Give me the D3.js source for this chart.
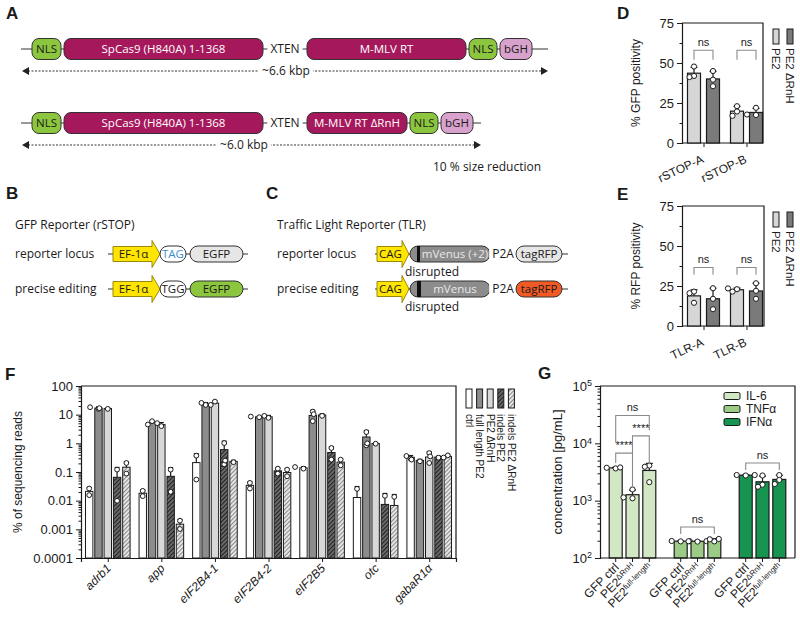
<!DOCTYPE html>
<html>
<head>
<meta charset="utf-8">
<script src="https://cdn.jsdelivr.net/npm/d3@7"></script>
<style>
  body { margin: 0; background: #fff; }
  svg { font-family: "Liberation Sans", Arial, sans-serif; }
  .dia text { font-family: "Open Sans", sans-serif; }
</style>
</head>
<body>
<svg id="fig" width="800" height="623"></svg>
<script>
// ---------- panel A ----------
var peFull = ["NLS", "SpCas9 (H840A) 1-1368", "XTEN", "M-MLV RT", "NLS", "bGH"];
var peSmall = ["NLS", "SpCas9 (H840A) 1-1368", "XTEN", "M-MLV RT ΔRnH", "NLS", "bGH"];
var peSizes = ["~6.6 kbp", "~6.0 kbp"];
var sizeNote = "10 % size reduction";

// ---------- panel B / C ----------
var gfpTitle = "GFP Reporter (rSTOP)";
var tlrTitle = "Traffic Light Reporter (TLR)";
var rowNames = ["reporter locus", "precise editing"];
var gfpRows = [["EF-1α", "TAG", "EGFP"], ["EF-1α", "TGG", "EGFP"]];
var tlrRows = [["CAG", "mVenus (+2)", "P2A", "tagRFP"], ["CAG", "mVenus", "P2A", "tagRFP"]];
var tlrNote = "disrupted";

// ---------- panel D / E ----------
var deSeries = ["PE2", "PE2 ΔRnH"];
var deTicks = [0, 25, 50, 75];
var deMinor = [12.5, 37.5, 62.5];
var dGroups = ["rSTOP-A", "rSTOP-B"];
var dPoints = [[[47.8, 41.9, 41.2], [45, 39.6, 35.5]], [[23, 19.7, 17], [22, 17.5, 17.8]]];
var dSig = [{ group: "rSTOP-A", top: 58, leg: 52, text: "ns" }, { group: "rSTOP-B", top: 58, leg: 52, text: "ns" }];
var eGroups = ["TLR-A", "TLR-B"];
var ePoints = [[[21.5, 20.5, 14.5], [23.6, 17, 10.5]], [[23, 23.5, 21.5], [26.7, 22, 17]]];
var eSig = [{ group: "TLR-A", top: 36.6, leg: 32, text: "ns" }, { group: "TLR-B", top: 36.6, leg: 32, text: "ns" }];

// ---------- panel F ----------
var fGenes = ["adrb1", "app", "eIF2B4-1", "eIF2B4-2", "eIF2B5", "otc", "gabaR1α"];
var fSeries = ["ctrl", "full length PE2", "PE2 ΔRnH", "indels PE2", "indels PE2 ΔRnH"];
var fPoints = [
  [[0.0265, 0.0156], [15.9, 18.2], [15.9, 16.8], [0.121, 0.0099], [0.206, 0.088]],
  [[0.022, 0.0144], [5.93, 4.54], [3.98, 5.06], [0.121, 0.0203], [0.002, 0.00103]],
  [[0.371, 0.0545], [21.9, 25.7], [28.6, 21.9], [1.02, 0.186], [0.22, 0.25]],
  [[0.0417, 0.0265], [8.17, 8.6], [7.75, 9.1], [0.131, 0.088], [0.121, 0.071]],
  [[0.131, 0.149], [12.8, 5.93], [9.1, 10.4], [0.686, 0.27], [0.27, 0.171]],
  [[0.0258, 0], [2.47, 0.85], [0.97, 1.0], [0.0148, 0], [0.0136, 0]],
  [[0.292, 0.361], [0.236, 0.27], [0.459, 0.206], [0.316, 0.35], [0.38, 0.32]]
];
var fTicks = [0.0001, 0.001, 0.01, 0.1, 1, 10, 100];
var fTickText = ["0.0001", "0.001", "0.01", "0.1", "1", "10", "100"];

// ---------- panel G ----------
var gCytokines = ["IL-6", "TNFα", "IFNα"];
var gCondBase = ["GFP ctrl", "PE2", "PE2"];
var gCondSup = ["", "ΔRnH", "full-length"];
var gPoints = [
  [[3650, 3750, 3800], [1570, 1100, 1140], [4100, 3900, 2100]],
  [[195, 198, 196], [193, 196, 197], [195, 212, 215]],
  [[2750, 2800, 2800], [2750, 1900, 1750], [2790, 2300, 1950]]
];
var gTicks = [100, 1000, 10000, 100000];
var gSig = [
  { cyto: "IL-6", a: 0, b: 1, top: 6740, legA: 4540, legB: 1700, text: "****" },
  { cyto: "IL-6", a: 1, b: 2, top: 13500, legA: 6740, legB: 4300, text: "****" },
  { cyto: "IL-6", a: 0, b: 2, top: 30600, legA: 10200, legB: 16900, text: "ns" },
  { cyto: "TNFα", a: 0, b: 2, top: 348, legA: 262, legB: 262, text: "ns" },
  { cyto: "IFNα", a: 0, b: 2, top: 4550, legA: 3435, legB: 3435, text: "ns" }
];

var ink = "#1a1a1a";
var svg = d3.select("#fig");
var defs = svg.append("defs");

function hatch(id, bg, fg) {
  var p = defs.append("pattern").attr("id", id).attr("patternUnits", "userSpaceOnUse")
    .attr("width", 3).attr("height", 3).attr("patternTransform", "rotate(45)");
  p.append("rect").attr("width", 3).attr("height", 3).attr("fill", bg);
  p.append("line").attr("x1", 0.5).attr("y1", 0).attr("x2", 0.5).attr("y2", 3)
    .attr("stroke", fg).attr("stroke-width", 1.3);
}
hatch("hDark", "#6e6e6e", "#222");
hatch("hLight", "#ececec", "#8a8a8a");

// panel letters
[["A", 6, 19], ["B", 6, 199], ["C", 266, 199], ["D", 617, 19], ["E", 617, 200], ["F", 5, 380], ["G", 538, 379]]
  .forEach(function(d) {
    svg.append("text").attr("x", d[1]).attr("y", d[2]).attr("font-size", 17)
      .attr("font-weight", "bold").attr("fill", ink).text(d[0]);
  });

// ================= diagrams (A, B, C) =================
var dia = svg.append("g").attr("class", "dia");

function rbox(x0, x1, cy, h, fill, label, color, rx) {
  dia.append("rect").attr("x", x0).attr("y", cy - h / 2).attr("width", x1 - x0).attr("height", h)
    .attr("rx", rx).attr("fill", fill).attr("stroke", "#333").attr("stroke-width", 1);
  if (label) {
    dia.append("text").attr("x", (x0 + x1) / 2).attr("y", cy).attr("dy", "0.36em")
      .attr("text-anchor", "middle").attr("font-size", 11.5).attr("fill", color).text(label);
  }
}
function gapText(cx, cy, label, size) {
  var t = dia.append("text").attr("x", cx).attr("y", cy).attr("dy", "0.36em")
    .attr("text-anchor", "middle").attr("font-size", size).attr("fill", ink).text(label);
  var b = t.node().getBBox();
  dia.insert("rect", function() { return t.node(); }).attr("x", b.x - 3).attr("y", b.y)
    .attr("width", b.width + 6).attr("height", b.height).attr("fill", "#fff");
}
function promoter(x0, x1, x2, cy, label) {
  var bh = 15, ext = 6;
  var d = "M" + x0 + "," + (cy - bh / 2) + "H" + x1 + "V" + (cy - bh / 2 - ext) + "L" + x2 + "," + cy +
    "L" + x1 + "," + (cy + bh / 2 + ext) + "V" + (cy + bh / 2) + "H" + x0 + "Z";
  dia.append("path").attr("d", d).attr("fill", "#ffe500").attr("stroke", "#8c7d00").attr("stroke-width", 0.9);
  dia.append("text").attr("x", (x0 + x1) / 2 + 1).attr("y", cy).attr("dy", "0.36em")
    .attr("text-anchor", "middle").attr("font-size", 11.5).attr("fill", ink).text(label);
}
function dashArrow(x0, x1, y, label, cx) {
  dia.append("line").attr("x1", x0 + 6).attr("x2", x1 - 6).attr("y1", y).attr("y2", y)
    .attr("stroke", "#333").attr("stroke-width", 1).attr("stroke-dasharray", "2,1.5");
  dia.append("path").attr("d", "M" + x0 + "," + y + "l7,-4v8z").attr("fill", "#222");
  dia.append("path").attr("d", "M" + x1 + "," + y + "l-7,-4v8z").attr("fill", "#222");
  gapText(cx, y, label, 12);
}

// panel A
var aWidth = { "NLS": 28, "SpCas9 (H840A) 1-1368": 199, "XTEN": 44, "M-MLV RT": 159, "M-MLV RT ΔRnH": 100, "bGH": 32 };
var aFill = { "NLS": "#8cc63e", "bGH": "#d8a2cd" };
var aRows = [
  { parts: peFull, y: 49, end: 548, dashY: 71, size: peSizes[0], sizeX: 286 },
  { parts: peSmall, y: 123, end: 481, dashY: 145, size: peSizes[1], sizeX: 244 }
];
aRows.forEach(function(row) {
  var x = 32, pos = [];
  row.parts.forEach(function(p, i) {
    var w = (i === 0) ? 29 : aWidth[p];
    pos.push([x, x + w]);
    x += w + (p === "SpCas9 (H840A) 1-1368" || p === "XTEN" ? 0 : 3);
  });
  dia.append("line").attr("x1", 21).attr("x2", row.end).attr("y1", row.y).attr("y2", row.y)
    .attr("stroke", "#333").attr("stroke-width", 1);
  row.parts.forEach(function(p, i) {
    if (p === "XTEN") { gapText((pos[i][0] + pos[i][1]) / 2, row.y, p, 12); return; }
    var fill = aFill[p] || "#a5195c";
    var col = aFill[p] ? ink : "#fff";
    rbox(pos[i][0], pos[i][1], row.y, 21, fill, p, col, 7);
  });
  dashArrow(22, row.end, row.dashY, row.size, row.sizeX);
});
dia.append("text").attr("x", 433).attr("y", 171).attr("font-size", 12).attr("fill", ink).text(sizeNote);

// panel B / C
var rowY = [254, 289];
dia.append("text").attr("x", 15).attr("y", 229).attr("font-size", 12).attr("fill", ink).text(gfpTitle);
dia.append("text").attr("x", 277).attr("y", 229).attr("font-size", 12).attr("fill", ink).text(tlrTitle);
rowNames.forEach(function(n, i) {
  dia.append("text").attr("x", 15).attr("y", rowY[i] + 4).attr("font-size", 12).attr("fill", ink).text(n);
  dia.append("text").attr("x", 277).attr("y", rowY[i] + 4).attr("font-size", 12).attr("fill", ink).text(n);
});
var egfpFill = ["#e6e6e6", "#8cc63e"];
var stopInk = ["#3b8fd3", ink];
gfpRows.forEach(function(parts, i) {
  var y = rowY[i];
  dia.append("line").attr("x1", 108).attr("x2", 248).attr("y1", y).attr("y2", y).attr("stroke", "#333");
  promoter(113, 152, 160, y, parts[0]);
  rbox(160, 186, y, 16, "#fff", parts[1], stopInk[i], 8);
  rbox(190, 243, y, 16, egfpFill[i], parts[2], ink, 8);
});
var rfpFill = ["#e6e6e6", "#f15a24"];
var barW = [3, 4];
tlrRows.forEach(function(parts, i) {
  var y = rowY[i];
  dia.append("line").attr("x1", 375).attr("x2", 568).attr("y1", y).attr("y2", y).attr("stroke", "#333");
  promoter(377, 402, 409, y, parts[0]);
  rbox(410, 490, y, 16, "#8c8c8c", null, null, 8);
  dia.append("rect").attr("x", 417).attr("y", y - 8).attr("width", barW[i]).attr("height", 16).attr("fill", "#111");
  dia.append("text").attr("x", 455).attr("y", y).attr("dy", "0.36em").attr("text-anchor", "middle")
    .attr("font-size", 11.5).attr("fill", "#e9e9e9").text(parts[1]);
  gapText(503, y, parts[2], 12);
  rbox(516, 562, y, 16, rfpFill[i], parts[3], ink, 8);
  dia.append("text").attr("x", 432).attr("y", y + 22).attr("text-anchor", "middle")
    .attr("font-size", 12).attr("fill", ink).text(tlrNote);
});

// ================= shared helpers =================
function styleAxis(g, size) {
  g.attr("font-family", null).attr("font-size", size);
  g.select(".domain").attr("stroke", ink).attr("stroke-width", 1.2);
  g.selectAll(".tick line").attr("stroke", ink).attr("stroke-width", 1);
  g.selectAll(".tick text").attr("fill", ink);
}
function swarm(vals, cx, y, step) {
  var placed = [];
  vals.filter(function(v) { return v > 0; }).forEach(function(v) {
    var py = y(v), offs = [0, -step, step, -2 * step, 2 * step];
    for (var k = 0; k < offs.length; k++) {
      var px = cx + offs[k];
      var ok = placed.every(function(p) { return Math.hypot(p.x - px, p.y - py) >= 4.6; });
      if (ok) { placed.push({ x: px, y: py }); break; }
    }
  });
  return placed;
}
function drawPoints(g, pts, r) {
  g.selectAll(null).data(pts).enter().append("circle")
    .attr("cx", function(d) { return d.x; }).attr("cy", function(d) { return d.y; })
    .attr("r", r).attr("fill", "#fff").attr("stroke", ink).attr("stroke-width", 1);
}
function errUp(g, cx, y0, y1, cap) {
  g.append("line").attr("x1", cx).attr("x2", cx).attr("y1", y0).attr("y2", y1).attr("stroke", ink).attr("stroke-width", 1.2);
  g.append("line").attr("x1", cx - cap).attr("x2", cx + cap).attr("y1", y1).attr("y2", y1).attr("stroke", ink).attr("stroke-width", 1.2);
}
function bracket(g, x1, x2, yA, yB, yTop, label, size) {
  g.append("path").attr("d", "M" + x1 + "," + yA + "V" + yTop + "H" + x2 + "V" + yB)
    .attr("fill", "none").attr("stroke", "#8a8a8a").attr("stroke-width", 1.1);
  g.append("text").attr("x", (x1 + x2) / 2).attr("y", yTop - 4).attr("text-anchor", "middle")
    .attr("font-size", size).attr("fill", ink).text(label);
}

// ================= panels D / E =================
var deFill = ["#d6d6d6", "#7a7a7a"];
function barPair(cfg) {
  var g = svg.append("g");
  var y = d3.scaleLinear().domain([0, 75]).range([cfg.bottom, cfg.top]);
  var x = d3.scalePoint().domain(cfg.groups).range([cfg.left, cfg.left + 86]).padding(0.5);
  var off = d3.scalePoint().domain(deSeries).range([-9.5, 9.5]);
  var bw = 13;
  g.append("path").attr("d", "M" + cfg.left + "," + cfg.top + "H" + cfg.right + "V" + cfg.bottom + "H" + cfg.left)
    .attr("fill", "none").attr("stroke", ink).attr("stroke-width", 1.2);
  cfg.points.forEach(function(grp, gi) {
    grp.forEach(function(vals, si) {
      var m = d3.mean(vals), s = d3.deviation(vals);
      var cx = x(cfg.groups[gi]) + off(deSeries[si]);
      g.append("rect").attr("x", cx - bw / 2).attr("y", y(m)).attr("width", bw).attr("height", cfg.bottom - y(m))
        .attr("fill", deFill[si]).attr("stroke", ink).attr("stroke-width", 1.2);
      errUp(g, cx, y(m), y(m + s), 3.5);
      drawPoints(g, swarm(vals, cx, y, 4.5), 2.6);
    });
  });
  cfg.sig.forEach(function(s) {
    var cx = x(s.group);
    bracket(g, cx + off(deSeries[0]), cx + off(deSeries[1]), y(s.leg), y(s.leg), y(s.top), s.text, 11);
  });
  var ay = g.append("g").attr("transform", "translate(" + cfg.left + ",0)")
    .call(d3.axisLeft(y).tickValues(deTicks).tickSize(5).tickPadding(3));
  styleAxis(ay, 13);
  var am = g.append("g").attr("transform", "translate(" + cfg.left + ",0)")
    .call(d3.axisLeft(y).tickValues(deMinor).tickSize(2.5).tickFormat(""));
  styleAxis(am, 13); am.select(".domain").remove();
  var ax = g.append("g").attr("transform", "translate(0," + cfg.bottom + ")")
    .call(d3.axisBottom(x).tickSize(4).tickFormat(""));
  styleAxis(ax, 12); ax.select(".domain").remove();
  cfg.groups.forEach(function(name) {
    g.append("text").attr("transform", "translate(" + (x(name) + 1) + "," + (cfg.bottom + 19) + ") rotate(-25)")
      .attr("text-anchor", "end").attr("font-size", 12).attr("fill", ink).text(name);
  });
  g.append("text").attr("transform", "translate(" + 640 + "," + ((cfg.top + cfg.bottom) / 2) + ") rotate(-90)")
    .attr("text-anchor", "middle").attr("font-size", 12).attr("fill", ink).text(cfg.title);
  deSeries.forEach(function(s, i) {
    var bx = 773 + i * 14;
    g.append("rect").attr("x", bx).attr("y", cfg.top + 6).attr("width", 6).attr("height", 15)
      .attr("fill", deFill[i]).attr("stroke", ink).attr("stroke-width", 1);
    g.append("text").attr("transform", "translate(" + (bx - 1) + "," + (cfg.top + 25) + ") rotate(90)")
      .attr("font-size", 11.5).attr("fill", ink).text(s);
  });
}
barPair({ top: 23, bottom: 143, left: 682, right: 763, groups: dGroups, points: dPoints, sig: dSig, title: "% GFP positivity" });
barPair({ top: 206, bottom: 326, left: 682, right: 764, groups: eGroups, points: ePoints, sig: eSig, title: "% RFP positivity" });

// ================= panel F =================
(function() {
  var g = svg.append("g");
  var left = 81, right = 456, top = 386, bottom = 558;
  var y = d3.scaleLog().domain([1e-4, 100]).range([bottom, top]);
  var x = d3.scalePoint().domain(fGenes).range([left, right]).padding(0.5);
  var off = d3.scalePoint().domain(fSeries).range([-18.6, 18.6]);
  var fills = ["#fff", "#8c8c8c", "#d8d8d8", "url(#hDark)", "url(#hLight)"];
  var bw = 7.4;
  g.append("path").attr("d", "M" + left + "," + top + "H" + right + "V" + bottom)
    .attr("fill", "none").attr("stroke", ink).attr("stroke-width", 1.2);
  fPoints.forEach(function(grp, gi) {
    grp.forEach(function(vals, si) {
      var m = d3.mean(vals), s = d3.deviation(vals);
      var cx = x(fGenes[gi]) + off(fSeries[si]);
      g.append("rect").attr("x", cx - bw / 2).attr("y", y(m)).attr("width", bw).attr("height", bottom - y(m))
        .attr("fill", fills[si]).attr("stroke", ink).attr("stroke-width", 1);
      errUp(g, cx, y(m), y(m + s), 2.5);
      drawPoints(g, swarm(vals, cx, y, 4.2), 2.4);
    });
  });
  var ay = g.append("g").attr("transform", "translate(" + left + ",0)")
    .call(d3.axisLeft(y).tickValues(fTicks).tickSize(5).tickPadding(3)
      .tickFormat(function(d, i) { return fTickText[i]; }));
  styleAxis(ay, 13);
  var minor = [];
  fTicks.slice(0, -1).forEach(function(t) { for (var k = 2; k < 10; k++) minor.push(t * k); });
  var am = g.append("g").attr("transform", "translate(" + left + ",0)")
    .call(d3.axisLeft(y).tickValues(minor).tickSize(2.5).tickFormat(""));
  styleAxis(am, 13); am.select(".domain").remove();
  var ax = g.append("g").attr("transform", "translate(0," + bottom + ")")
    .call(d3.axisBottom(x).tickSize(4).tickFormat(""));
  styleAxis(ax, 12);
  fGenes.forEach(function(name) {
    g.append("text").attr("transform", "translate(" + (x(name) + 4) + "," + (bottom + 11) + ") rotate(-45)")
      .attr("text-anchor", "end").attr("font-size", 12).attr("font-style", "italic").attr("fill", ink).text(name);
  });
  g.append("text").attr("transform", "translate(22," + ((top + bottom) / 2) + ") rotate(-90)")
    .attr("text-anchor", "middle").attr("font-size", 12).attr("fill", ink).text("% of sequencing reads");
  fSeries.forEach(function(s, i) {
    var bx = 466 + i * 10.6;
    g.append("rect").attr("x", bx).attr("y", 389).attr("width", 6).attr("height", 19)
      .attr("fill", fills[i]).attr("stroke", ink).attr("stroke-width", 1);
    g.append("text").attr("transform", "translate(" + (bx - 0.5) + ",414) rotate(90)")
      .attr("font-size", 10).attr("fill", ink).text(s);
  });
})();

// ================= panel G =================
(function() {
  var g = svg.append("g");
  var left = 600, right = 795, top = 386, bottom = 558;
  var y = d3.scaleLog().domain([100, 1e5]).range([bottom, top]);
  var x = d3.scalePoint().domain(gCytokines).range([left, right]).padding(0.5);
  var off = d3.scalePoint().domain(gCondBase.map(function(b, i) { return b + gCondSup[i]; })).range([-16.8, 16.8]);
  var cond = off.domain();
  var fills = ["#d2e7c3", "#9ccb87", "#17944f"];
  var bw = 13;
  g.append("path").attr("d", "M" + left + "," + top + "H" + right + "V" + bottom)
    .attr("fill", "none").attr("stroke", ink).attr("stroke-width", 1.2);
  var centers = [];
  gPoints.forEach(function(grp, gi) {
    grp.forEach(function(vals, si) {
      var m = d3.mean(vals), s = d3.deviation(vals);
      var cx = x(gCytokines[gi]) + off(cond[si]);
      centers.push({ x: cx, si: si });
      g.append("rect").attr("x", cx - bw / 2).attr("y", y(m)).attr("width", bw).attr("height", bottom - y(m))
        .attr("fill", fills[gi]).attr("stroke", ink).attr("stroke-width", 1.2);
      errUp(g, cx, y(m), y(m + s), 3.5);
      drawPoints(g, swarm(vals, cx, y, 4.5), 2.6);
    });
  });
  gSig.forEach(function(s) {
    var c = x(s.cyto);
    bracket(g, c + off(cond[s.a]), c + off(cond[s.b]), y(s.legA), y(s.legB), y(s.top), s.text, 11);
  });
  var ay = g.append("g").attr("transform", "translate(" + left + ",0)")
    .call(d3.axisLeft(y).tickValues(gTicks).tickSize(5).tickPadding(3));
  styleAxis(ay, 13);
  ay.selectAll(".tick text").each(function(d) {
    var t = d3.select(this).text("");
    t.append("tspan").text("10");
    t.append("tspan").attr("dy", "-0.5em").attr("font-size", 9).text(Math.round(Math.log10(d)));
  });
  var minor = [];
  gTicks.slice(0, -1).forEach(function(t) { for (var k = 2; k < 10; k++) minor.push(t * k); });
  var am = g.append("g").attr("transform", "translate(" + left + ",0)")
    .call(d3.axisLeft(y).tickValues(minor).tickSize(2.5).tickFormat(""));
  styleAxis(am, 13); am.select(".domain").remove();
  g.append("line").attr("x1", left).attr("x2", right).attr("y1", bottom).attr("y2", bottom)
    .attr("stroke", ink).attr("stroke-width", 1.2);
  centers.forEach(function(c) {
    g.append("line").attr("x1", c.x).attr("x2", c.x).attr("y1", bottom).attr("y2", bottom + 4).attr("stroke", ink);
    var t = g.append("text").attr("transform", "translate(" + (c.x + 4) + "," + (bottom + 10) + ") rotate(-45)")
      .attr("text-anchor", "end").attr("font-size", 12).attr("fill", ink);
    t.append("tspan").text(gCondBase[c.si]);
    if (gCondSup[c.si]) t.append("tspan").attr("dy", "-0.45em").attr("font-size", 8).text(gCondSup[c.si]);
  });
  g.append("text").attr("transform", "translate(562," + ((top + bottom) / 2) + ") rotate(-90)")
    .attr("text-anchor", "middle").attr("font-size", 13).attr("fill", ink).text("concentration [pg/mL]");
  gCytokines.forEach(function(c, i) {
    var ly = 396 + i * 13;
    g.append("rect").attr("x", 724).attr("y", ly - 3.5).attr("width", 16).attr("height", 7).attr("rx", 1.5)
      .attr("fill", fills[i]).attr("stroke", ink).attr("stroke-width", 1);
    g.append("text").attr("x", 746).attr("y", ly).attr("dy", "0.36em").attr("font-size", 12).attr("fill", ink).text(c);
  });
})();
</script>
</body>
</html>
